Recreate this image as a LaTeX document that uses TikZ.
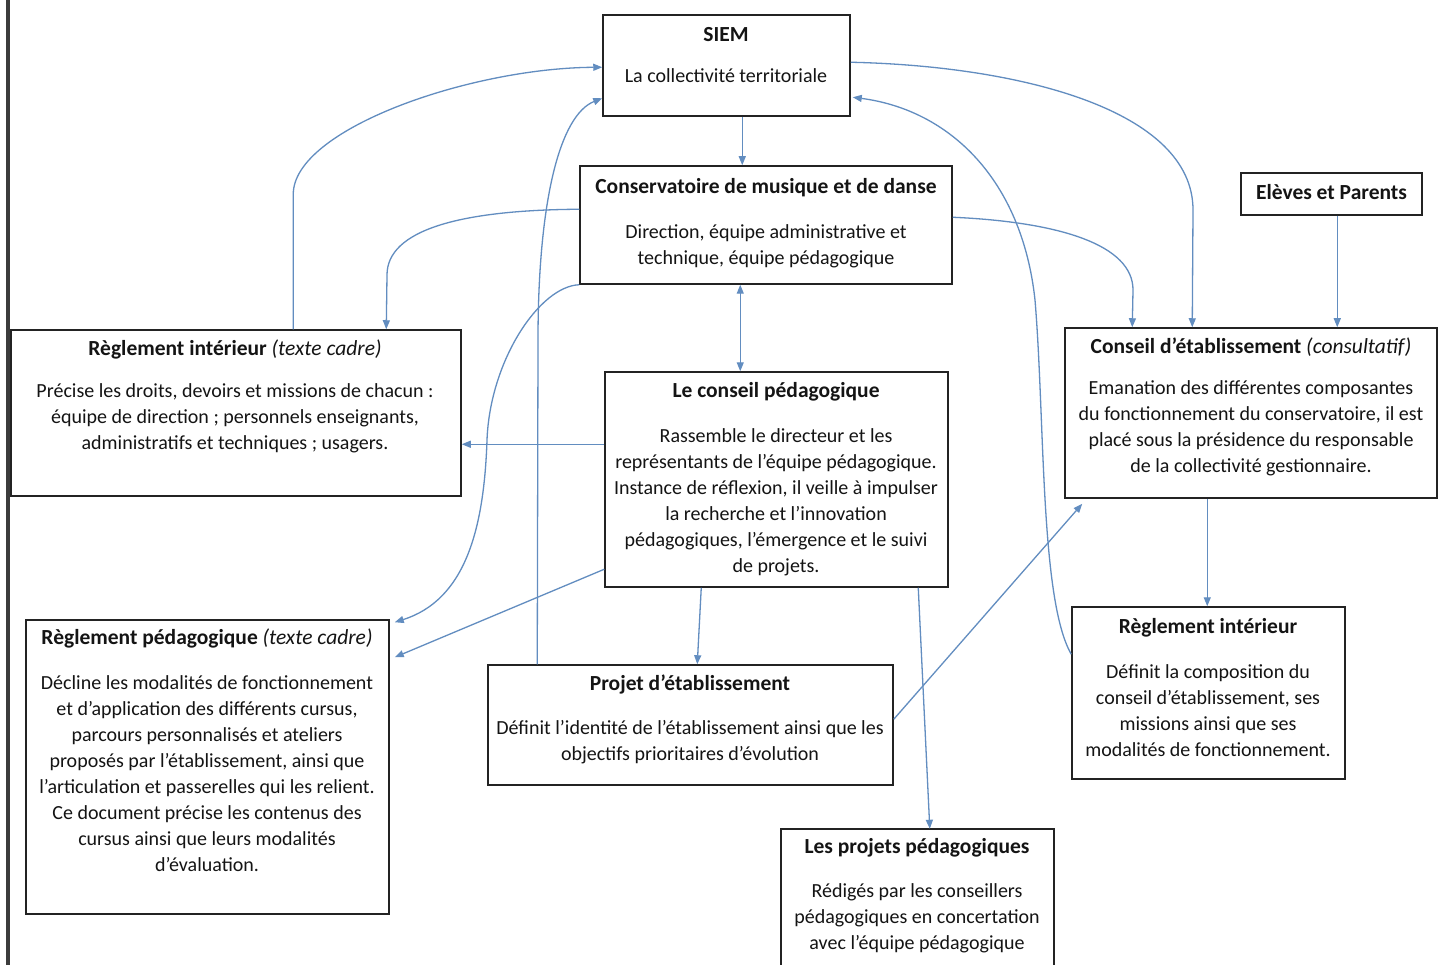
\documentclass[tikz,border=0pt]{standalone}
\usepackage{fontspec}
\setmainfont{Carlito}
\usetikzlibrary{arrows.meta,calc}
\definecolor{arrowblue}{RGB}{98,141,192}
\definecolor{boxline}{RGB}{35,35,35}
\definecolor{txt}{RGB}{20,20,20}
\definecolor{frame}{RGB}{60,60,60}
\tikzset{
  box/.style={draw=boxline,line width=1.5pt,inner sep=0pt},
  ttl/.style={font=\fontsize{21.5}{24}\selectfont\bfseries,text=txt,inner sep=0pt},
  bdy/.style={font=\fontsize{20}{26}\selectfont,align=center,text=txt,inner sep=0pt},
  arr/.style={draw=arrowblue,line width=1.3pt,-{Triangle[length=9pt,width=7pt]}},
  darr/.style={draw=arrowblue,line width=1.3pt,{Triangle[length=9pt,width=7pt]}-{Triangle[length=9pt,width=7pt]}}
}
\begin{document}
\begin{tikzpicture}[x=1pt,y=-1pt]
\useasboundingbox (0,0) rectangle (1439,965);
\fill[white] (0,0) rectangle (1439,965);
\fill[frame] (6,0) rectangle (10,965);

% boxes
\node[box,minimum width=247pt,minimum height=101pt] (siem) at (726.5,65.5) {};
\node[box,minimum width=372pt,minimum height=118pt] (cons) at (766,225) {};
\node[box,minimum width=181pt,minimum height=42pt] (eleves) at (1331.5,194) {};
\node[box,minimum width=450pt,minimum height=166pt] (ri) at (236,413) {};
\node[box,minimum width=372pt,minimum height=170pt] (ce) at (1251,413) {};
\node[box,minimum width=343pt,minimum height=215pt] (cp) at (776.5,479.5) {};
\node[box,minimum width=363pt,minimum height=294pt] (rp) at (207.5,767) {};
\node[box,minimum width=405pt,minimum height=120pt] (pe) at (690.5,725) {};
\node[box,minimum width=273pt,minimum height=172pt] (ri2) at (1208.5,693) {};
\node[inner sep=0pt,minimum width=273pt,minimum height=136pt] (pp) at (917.5,897) {};
\draw[boxline,line width=1.5pt] (pp.south west) -- (pp.north west) -- (pp.north east) -- (pp.south east);

% texts
\node[ttl] (siemT) at (726,35) {SIEM};
\node[bdy] (siemB) at (726,76) {La collectivité territoriale};

\node[ttl] (consT) at (766,188) {Conservatoire de musique et de danse};
\node[bdy] (consB) at (766,246) {Direction, équipe administrative et\\technique, équipe pédagogique};

\node[ttl] (elevesT) at (1331.5,192) {Elèves et Parents};

\node[ttl] (riT) at (235,349) {Règlement intérieur \normalfont\itshape(texte cadre)};
\node[bdy] (riB) at (235,418) {Précise les droits, devoirs et missions de chacun :\\équipe de direction ; personnels enseignants,\\administratifs et techniques ; usagers.};

\node[ttl] (ceT) at (1251,347) {Conseil d’établissement \normalfont\itshape(consultatif)};
\node[bdy] (ceB) at (1251,428) {Emanation des différentes composantes\\du fonctionnement du conservatoire, il est\\placé sous la présidence du responsable\\de la collectivité gestionnaire.};

\node[ttl] (cpT) at (776,392) {Le conseil pédagogique};
\node[bdy] (cpB) at (776,502) {Rassemble le directeur et les\\représentants de l’équipe pédagogique.\\Instance de réflexion, il veille à impulser\\la recherche et l’innovation\\pédagogiques, l’émergence et le suivi\\de projets.};

\node[ttl] (rpT) at (207,638) {Règlement pédagogique \normalfont\itshape(texte cadre)};
\node[bdy] (rpB) at (207,774) {Décline les modalités de fonctionnement\\et d’application des différents cursus,\\parcours personnalisés et ateliers\\proposés par l’établissement, ainsi que\\l’articulation et passerelles qui les relient.\\Ce document précise les contenus des\\cursus ainsi que leurs modalités\\d’évaluation.};

\node[ttl] (peT) at (690,684) {Projet d’établissement};
\node[bdy] (peB) at (690,742) {Définit l’identité de l’établissement ainsi que les\\objectifs prioritaires d’évolution};

\node[ttl] (ri2T) at (1208,628) {Règlement intérieur};
\node[bdy] (ri2B) at (1208,711) {Définit la composition du\\conseil d’établissement, ses\\missions ainsi que ses\\modalités de fonctionnement.};

\node[ttl] (ppT) at (917,848) {Les projets pédagogiques};
\node[bdy] (ppB) at (917,918) {Rédigés par les conseillers\\pédagogiques en concertation\\avec l’équipe pédagogique};

% connectors
% a
\draw[arr] ([xshift=140pt]siem.south west) -- ([xshift=163pt]cons.north west);
% b
\draw[darr] ([xshift=161pt]cons.south west) -- ([xshift=136pt]cp.north west);
% c
\draw[arr] ([yshift=-73pt]cp.north west) -- ([yshift=-115pt]ri.north east);
% d
\draw[arr] ([xshift=283pt]ri.north west) -- ++(0,-135) .. controls +(0,-65) and (470,68) .. ([yshift=-53pt]siem.north west);
% e
\draw[arr] ([yshift=-44pt]cons.north west) .. controls (460,210) and (387,230) .. (387,275) -- ([xshift=376pt]ri.north west);
% f
\draw[arr] ([xshift=50pt]pe.north west) -- (538,340) .. controls (538,200) and (560,115) .. ([yshift=-84pt]siem.north west);
% g
\draw[arr] (cons.south west) .. controls (540,286) and (490,360) .. (487,440) .. controls (484,530) and (465,600) .. ([xshift=5pt,yshift=-3pt]rp.north east);
% h
\draw[arr] ([yshift=-198pt]cp.north west) -- ([xshift=5pt,yshift=-38pt]rp.north east);
% i
\draw[arr] ([xshift=97pt]cp.south west) -- ([xshift=210pt]pe.north west);
% j
\draw[arr] ([xshift=314pt]cp.south west) -- ([xshift=149pt]pp.north west);
% k
\draw[arr] ([yshift=-55pt]pe.north east) -- ([xshift=18pt,yshift=-5pt]ce.south west);
% l
\draw[arr] ([yshift=-48pt]ri2.north west) .. controls (1040,600) and (1045,420) .. (1035,300) .. controls (1022,180) and (950,110) .. ([xshift=2pt,yshift=-83pt]siem.north east);
% m
\draw[arr] ([yshift=-48pt]siem.north east) .. controls (1020,66) and (1193,110) .. (1193,210) -- ([xshift=128pt]ce.north west);
% n
\draw[arr] ([yshift=-52pt]cons.north east) .. controls (1060,222) and (1133,245) .. (1133,290) -- ([xshift=68pt]ce.north west);
% o
\draw[arr] ([xshift=97pt]eleves.south west) -- ([xshift=273pt]ce.north west);
% p
\draw[arr] ([xshift=143pt]ce.south west) -- ([xshift=136pt]ri2.north west);
\end{tikzpicture}
\end{document}
